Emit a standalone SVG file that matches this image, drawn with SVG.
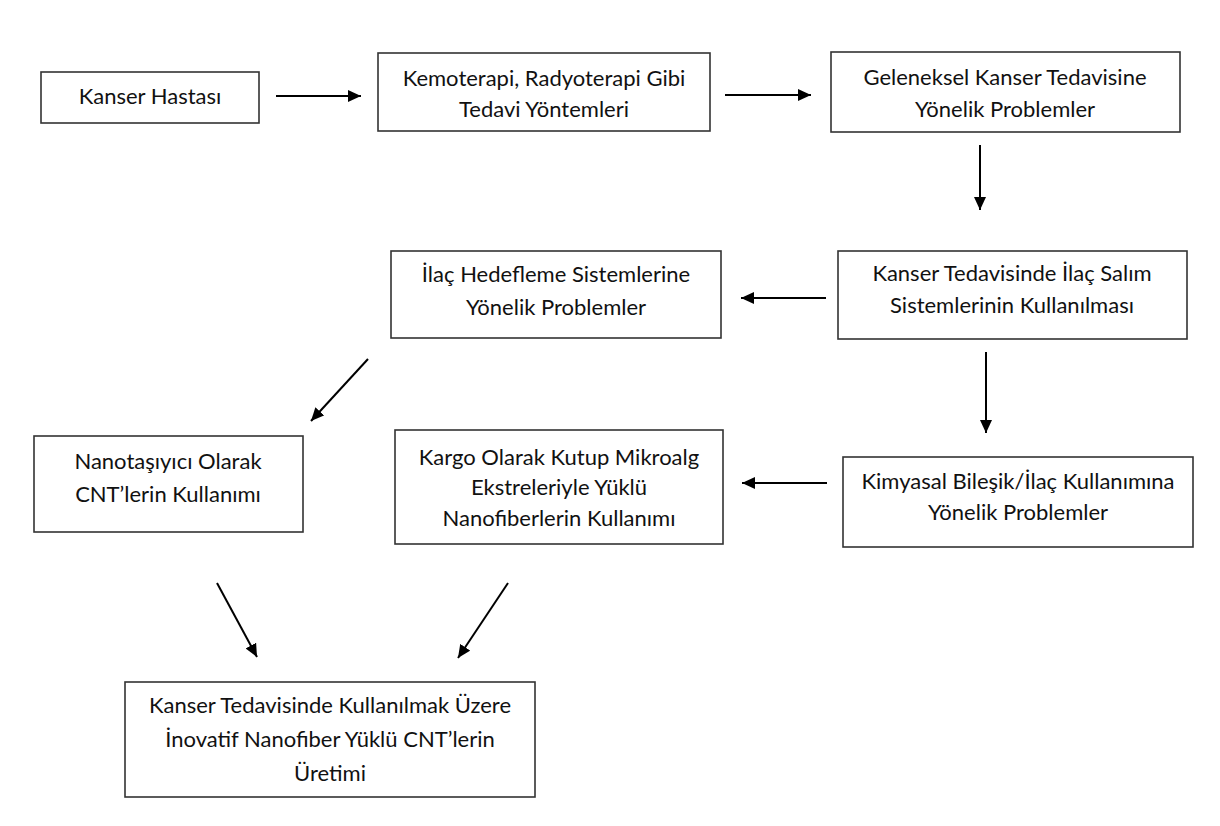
<svg xmlns="http://www.w3.org/2000/svg" width="1220" height="826" viewBox="0 0 1220 826">
  <defs>
    <marker id="arr" markerUnits="userSpaceOnUse" markerWidth="14" markerHeight="12" refX="13" refY="6" orient="auto">
      <path d="M0,0 L13,6 L0,12 z" fill="#000"/>
    </marker>
    <style>
      .box { fill: #fff; stroke: #333; stroke-width: 1.6; }
      .lbl { font-family: Lato, "Open Sans", "Liberation Sans", sans-serif; font-size: 22px; fill: #111; text-anchor: middle; }
      .conn line { stroke: #000; stroke-width: 2; marker-end: url(#arr); }
    </style>
  </defs>
  <rect width="1220" height="826" fill="#fff"/>

  <g id="n1">
    <rect class="box" x="41" y="72" width="218" height="51"/>
    <text class="lbl" x="150" y="104">Kanser Hastası</text>
  </g>
  <g id="n2">
    <rect class="box" x="378" y="53" width="332" height="78"/>
    <text class="lbl" x="544" y="86">Kemoterapi, Radyoterapi Gibi</text>
    <text class="lbl" x="544" y="117">Tedavi Yöntemleri</text>
  </g>
  <g id="n3">
    <rect class="box" x="831" y="52" width="349" height="80"/>
    <text class="lbl" x="1005" y="85">Geleneksel Kanser Tedavisine</text>
    <text class="lbl" x="1005" y="117">Yönelik Problemler</text>
  </g>
  <g id="n4">
    <rect class="box" x="838" y="251" width="349" height="88"/>
    <text class="lbl" x="1012" y="281">Kanser Tedavisinde İlaç Salım</text>
    <text class="lbl" x="1012" y="313">Sistemlerinin Kullanılması</text>
  </g>
  <g id="n5">
    <rect class="box" x="391" y="251" width="330" height="87"/>
    <text class="lbl" x="556" y="282">İlaç Hedefleme Sistemlerine</text>
    <text class="lbl" x="556" y="315">Yönelik Problemler</text>
  </g>
  <g id="n6">
    <rect class="box" x="843" y="457" width="350" height="90"/>
    <text class="lbl" x="1018" y="489">Kimyasal Bileşik/İlaç Kullanımına</text>
    <text class="lbl" x="1018" y="520">Yönelik Problemler</text>
  </g>
  <g id="n7">
    <rect class="box" x="34" y="436" width="269" height="96"/>
    <text class="lbl" x="168" y="469">Nanotaşıyıcı Olarak</text>
    <text class="lbl" x="168" y="502">CNT’lerin Kullanımı</text>
  </g>
  <g id="n8">
    <rect class="box" x="395" y="430" width="328" height="114"/>
    <text class="lbl" x="559" y="465">Kargo Olarak Kutup Mikroalg</text>
    <text class="lbl" x="559" y="495">Ekstreleriyle Yüklü</text>
    <text class="lbl" x="559" y="526">Nanofiberlerin Kullanımı</text>
  </g>
  <g id="n9">
    <rect class="box" x="125" y="682" width="410" height="115"/>
    <text class="lbl" x="330" y="713">Kanser Tedavisinde Kullanılmak Üzere</text>
    <text class="lbl" x="330" y="747">İnovatif Nanofiber Yüklü CNT’lerin</text>
    <text class="lbl" x="330" y="781">Üretimi</text>
  </g>

  <g id="connectors" class="conn">
    <line x1="276" y1="96" x2="361" y2="96"/>
    <line x1="725" y1="95" x2="811" y2="95"/>
    <line x1="980" y1="145" x2="980" y2="210"/>
    <line x1="826" y1="298" x2="741" y2="298"/>
    <line x1="986" y1="352" x2="986" y2="433"/>
    <line x1="827" y1="483" x2="742" y2="483"/>
    <line x1="368" y1="359" x2="311" y2="421"/>
    <line x1="217" y1="583" x2="257" y2="657"/>
    <line x1="508" y1="583" x2="458" y2="658"/>
  </g>
</svg>
